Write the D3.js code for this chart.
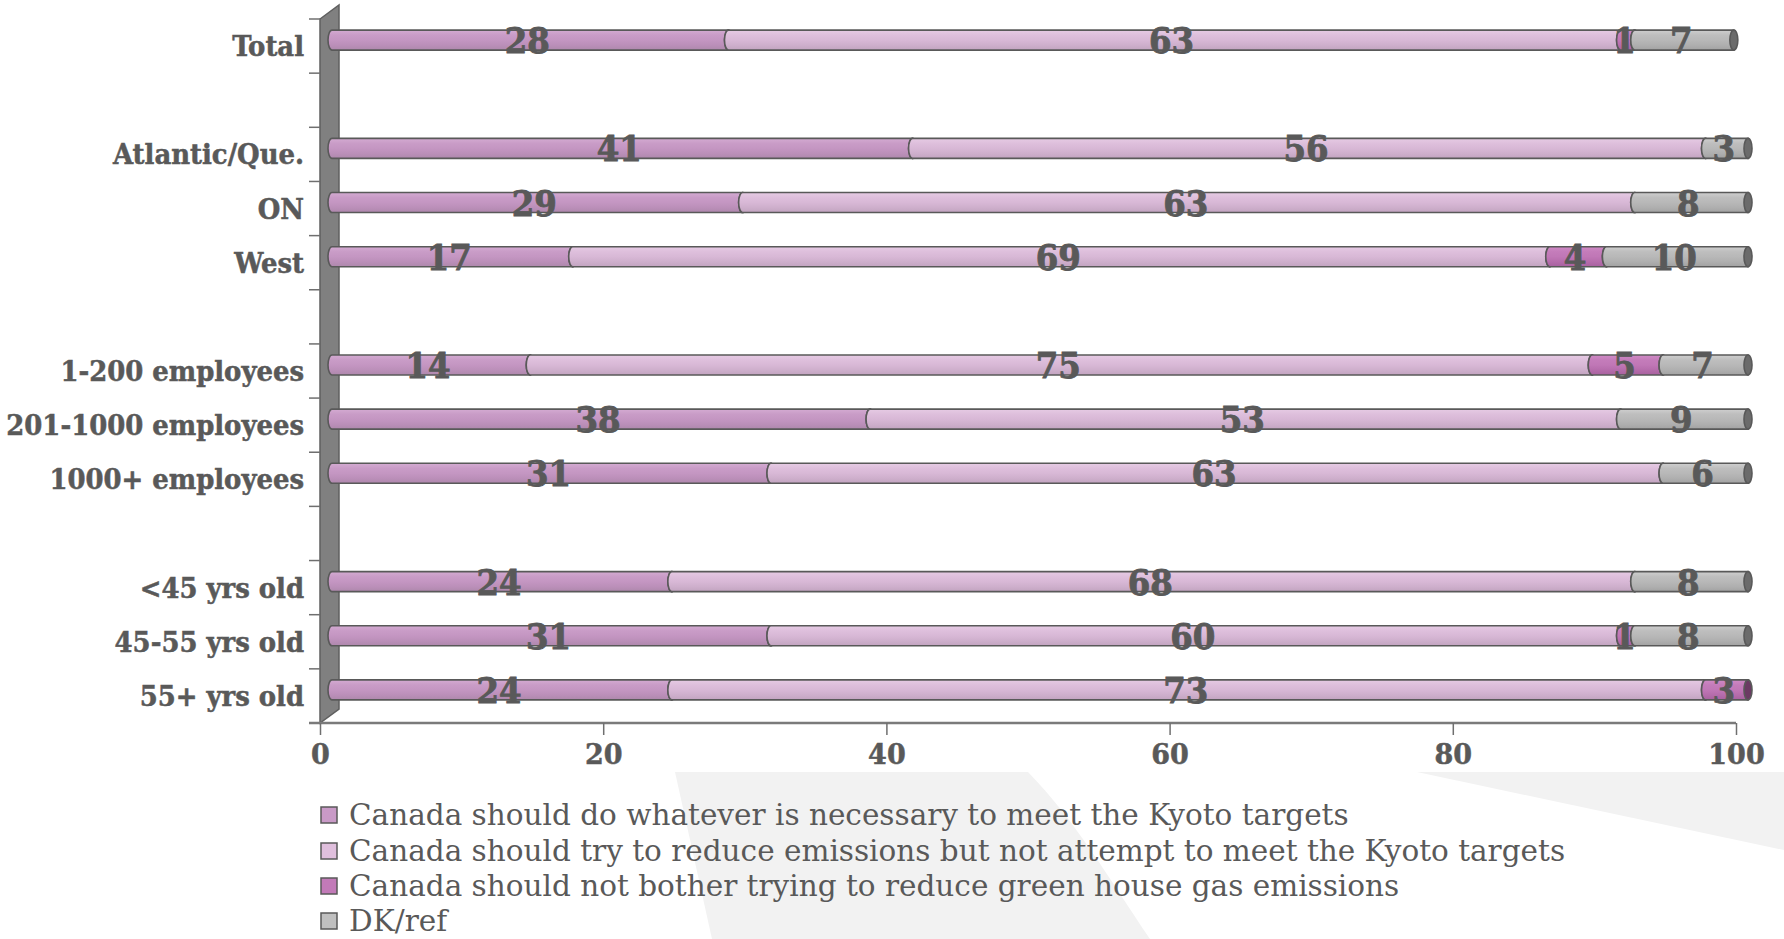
<!DOCTYPE html>
<html>
<head>
<meta charset="utf-8">
<script src="https://cdn.jsdelivr.net/npm/d3@7/dist/d3.min.js"></script>
<style>
  html, body { margin: 0; padding: 0; background: #ffffff; }
  svg { display: block; }
  .lbl { font-family: "DejaVu Serif Condensed", "DejaVu Serif", serif; font-stretch: condensed; font-weight: bold; fill: #595959; }
  .tk { font-family: "DejaVu Serif", serif; font-weight: bold; fill: #595959; }
  .leg { font-family: "DejaVu Serif", serif; fill: #595959; }
</style>
</head>
<body>
<svg id="chart" width="1784" height="939"></svg>
<script>
// ---- data ----
const categories = ["Total", null, "Atlantic/Que.", "ON", "West", null,
  "1-200 employees", "201-1000 employees", "1000+ employees", null,
  "<45 yrs old", "45-55 yrs old", "55+ yrs old"];
const seriesNames = [
  "Canada should do whatever is necessary to meet the Kyoto targets",
  "Canada should try to reduce emissions but not attempt to meet the Kyoto targets",
  "Canada should not bother trying to reduce green house gas emissions",
  "DK/ref"
];
const doWhatever = [28, null, 41, 29, 17, null, 14, 38, 31, null, 24, 31, 24];
const tryReduce  = [63, null, 56, 63, 69, null, 75, 53, 63, null, 68, 60, 73];
const notBother  = [1,  null, 0,  0,  4,  null, 5,  0,  0,  null, 0,  1,  3];
const dkRef      = [7,  null, 3,  8,  10, null, 7,  9,  6,  null, 8,  8,  0];
const xTicks = [0, 20, 40, 60, 80, 100];

// ---- styles ----
const gradStops = [
  [["0", "#d4abd2"], ["0.25", "#c99cc7"], ["0.5", "#c496c2"], ["0.75", "#bb8fb9"], ["1", "#ae88ac"]],
  [["0", "#e6cbe4"], ["0.25", "#debfdc"], ["0.5", "#d8b8d6"], ["0.75", "#ceafcc"], ["1", "#c2a4c0"]],
  [["0", "#d08ac6"], ["0.25", "#c47cba"], ["0.5", "#c077b6"], ["0.75", "#b56cab"], ["1", "#a8619f"]],
  [["0", "#cfcfcf"], ["0.25", "#bebebe"], ["0.5", "#b8b8b8"], ["0.75", "#afafaf"], ["1", "#a2a2a2"]]
];
const capColors = ["#7d5a7b", "#8f7390", "#6b3a63", "#6b6b6b"];
const swatchColors = ["#c99ac7", "#e0bfdd", "#c27ab8", "#c0c0c0"];

const svg = d3.select("#chart");

// background watermark shapes
svg.append("path")
  .attr("d", "M675,772 L1028,772 C1075,820 1110,880 1150,939 L712,939 Z")
  .attr("fill", "#f2f2f2");
svg.append("path")
  .attr("d", "M1417,772 L1784,772 L1784,850 Z")
  .attr("fill", "#f2f2f2");

// scales
const x = d3.scaleLinear().domain([0, 100]).range([320, 1736]);
const y = d3.scaleBand().domain(d3.range(categories.length)).range([19, 723]).padding(0);
const depth = { dx: 19, dy: -14 };
const barOff = { dx: 12, dy: -6 };
const barH = 20;
const rx = 4;

const defs = svg.append("defs");
gradStops.forEach((stops, i) => {
  const g = defs.append("linearGradient").attr("id", "g" + i)
    .attr("x1", 0).attr("y1", 0).attr("x2", 0).attr("y2", 1);
  stops.forEach(s => g.append("stop").attr("offset", s[0]).attr("stop-color", s[1]));
});

// wall
const x0 = x(0);
svg.append("polygon")
  .attr("points", [[x0, y.range()[0]], [x0 + depth.dx, y.range()[0] + depth.dy],
    [x0 + depth.dx, y.range()[1] + depth.dy], [x0, y.range()[1]]].map(p => p.join(",")).join(" "))
  .attr("fill", "#808080").attr("stroke", "#5f5f5f").attr("stroke-width", 1.5);

// category ticks
const boundaries = d3.range(categories.length + 1).map(i => y.range()[0] + i * y.step());
svg.append("g").selectAll("line").data(boundaries).join("line")
  .attr("x1", x0 - 11).attr("x2", x0).attr("y1", d => d).attr("y2", d => d)
  .attr("stroke", "#6f6f6f").attr("stroke-width", 1.5);

// x axis
const axisY = y.range()[1];
svg.append("line").attr("x1", x0 - 11).attr("x2", x(100)).attr("y1", axisY).attr("y2", axisY)
  .attr("stroke", "#7a7a7a").attr("stroke-width", 2.5);
const xAxis = d3.axisBottom(x).tickValues(xTicks).tickSize(12).tickPadding(9).tickFormat(d3.format("d"));
const gx = svg.append("g").attr("transform", `translate(0,${axisY})`).call(xAxis);
gx.select(".domain").remove();
gx.selectAll(".tick line").attr("stroke", "#6f6f6f").attr("stroke-width", 1.5);
gx.selectAll(".tick text").attr("class", "tk").attr("font-size", 27).attr("dy", "0.75em")
  .attr("stroke", "#595959").attr("stroke-width", 0.5);

// category labels
svg.append("g").selectAll("text").data(categories.map((c, i) => ({ c, i })).filter(d => d.c))
  .join("text").attr("class", "lbl")
  .attr("x", 304).attr("y", d => y(d.i) + y.bandwidth() / 2 + 10)
  .attr("text-anchor", "end").attr("font-size", 28.8)
  .attr("stroke", "#595959").attr("stroke-width", 0.5)
  .text(d => d.c);

// bars
const seriesVals = [doWhatever, tryReduce, notBother, dkRef];
const xb = v => x(Math.min(v, 100)) + barOff.dx;
const barsG = svg.append("g");
const labelsG = svg.append("g");
categories.forEach((c, i) => {
  if (!c) return;
  const cy = y(i) + y.bandwidth() / 2 + barOff.dy;
  const top = cy - barH / 2, bot = cy + barH / 2, ry = barH / 2;
  let acc = 0;
  seriesVals.forEach((vals, s) => {
    const v = vals[i];
    if (!v) return;
    const a = xb(acc), b = xb(acc + v);
    const mid = (a + b) / 2;
    acc += v;
    barsG.append("path")
      .attr("d", `M${b},${top} L${a},${top} A${rx},${ry} 0 0 0 ${a},${bot} L${b},${bot} Z`)
      .attr("fill", `url(#g${s})`).attr("stroke", "#595959").attr("stroke-width", 1.6);
    barsG.append("ellipse").attr("cx", b).attr("cy", cy).attr("rx", rx).attr("ry", ry)
      .attr("fill", capColors[s]).attr("stroke", "#595959").attr("stroke-width", 1.6);
    labelsG.append("text").attr("class", "lbl")
      .attr("x", mid - 3).attr("y", cy + 13).attr("text-anchor", "middle").attr("font-size", 36)
      .attr("stroke", "#595959").attr("stroke-width", 0.8)
      .text(v);
  });
});

// legend
const legY = [815, 851, 886, 921];
const leg = svg.append("g");
seriesNames.forEach((n, i) => {
  leg.append("rect").attr("x", 321).attr("y", legY[i] - 8).attr("width", 16).attr("height", 16)
    .attr("fill", swatchColors[i]).attr("stroke", "#595959").attr("stroke-width", 1.5);
  leg.append("text").attr("class", "leg").attr("x", 349).attr("y", legY[i] + 10)
    .attr("font-size", 29.5).text(n);
});
</script>
</body>
</html>
